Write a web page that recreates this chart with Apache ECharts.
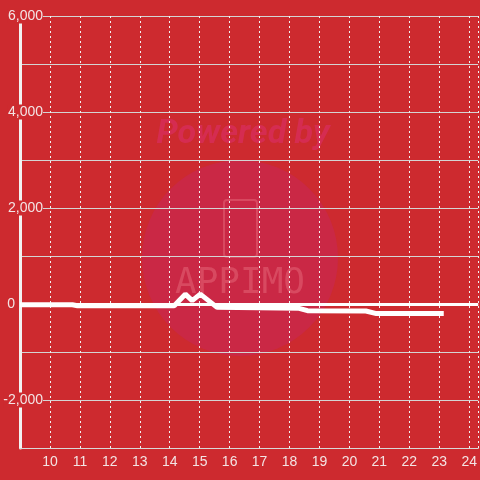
<!DOCTYPE html>
<html>
<head>
<meta charset="utf-8">
<script src="https://cdn.jsdelivr.net/npm/echarts@6/dist/echarts.min.js"></script>
<style>
  html, body { margin: 0; padding: 0; background: #cd2a2f; }
  #main { width: 480px; height: 480px; }
</style>
</head>
<body>
<div id="main"></div>
<script>
// values
const xValues = [9.0, 10.75, 10.92, 14.15, 14.52, 14.75, 15.02, 15.58, 18.32, 18.6, 20.55, 20.9, 23.15];
const yValues = [-15, -15, -35, -35, 205, 70, 205, -70, -90, -140, -145, -200, -200];
const yLabelValues = [-2000, 0, 2000, 4000, 6000];

const chart = echarts.init(document.getElementById('main'));
const textColor = '#f3e4e4';
const bg = '#cd2a2f';

const option = {
  backgroundColor: bg,
  animation: false,
  grid: { left: 20, right: 0, top: 16, bottom: 32 },
  xAxis: {
    type: 'value',
    min: 9,
    max: 24.3,
    interval: 1,
    axisLine: { onZero: false, lineStyle: { color: '#d8d8d8', width: 1 } },
    axisTick: { show: false },
    axisLabel: {
      color: textColor, fontSize: 14, margin: 7,
      showMinLabel: false, showMaxLabel: false
    },
    splitLine: { show: true, lineStyle: { color: '#f2f2f2', width: 1, type: [2, 3] } }
  },
  yAxis: {
    type: 'value',
    min: -3000,
    max: 6000,
    interval: 1000,
    axisLine: { show: true, lineStyle: { color: '#f2f2f2', width: 3 } },
    axisTick: { show: false },
    axisLabel: {
      margin: -23,
      align: 'right',
      fontSize: 14,
      color: textColor,
      formatter: (v) => {
        if (yLabelValues.indexOf(v) < 0) return '';
        if (v === 0) return '{z|0}';
        return '{a|' + v.toLocaleString('en-US') + '}';
      },
      rich: {
        a: { color: textColor, fontSize: 14, backgroundColor: bg, padding: [1, 0, 0, 0] },
        z: { color: textColor, fontSize: 14, padding: [0, 28, 0, 0] }
      }
    },
    splitLine: { show: true, lineStyle: { color: '#d4d4d4', width: 1 } }
  },
  // faint watermark behind the plot
  graphic: [
    { type: 'circle', z: -10, silent: true, shape: { cx: 240, cy: 258, r: 98 }, style: { fill: '#ca2845' } },
    { type: 'text', z: -9, silent: true, x: 243, y: 134,
      style: { text: 'Powered by', font: 'italic bold 34px Roboto', fill: 'rgba(215,45,90,0.8)', align: 'center', verticalAlign: 'middle' } },
    { type: 'rect', z: -9, silent: true, shape: { x: 224, y: 200, width: 33, height: 57, r: 3 },
      style: { fill: 'none', stroke: 'rgba(225,95,115,0.6)', lineWidth: 2 } },
    { type: 'text', z: -9, silent: true, x: 240, y: 284,
      style: { text: 'APPIMO', font: '36px "DejaVu Sans Mono"', fill: 'rgba(225,95,115,0.6)', align: 'center', verticalAlign: 'middle' } }
  ],
  series: [{
    type: 'line',
    data: xValues.map((x, i) => [x, yValues[i]]),
    showSymbol: false,
    lineStyle: { color: '#ffffff', width: 5 },
    markLine: {
      silent: true,
      symbol: ['none', 'none'],
      label: { show: false },
      lineStyle: { color: '#ffffff', width: 3, type: 'solid' },
      data: [{ yAxis: 0 }]
    }
  }]
};
chart.setOption(option);
</script>
</body>
</html>
